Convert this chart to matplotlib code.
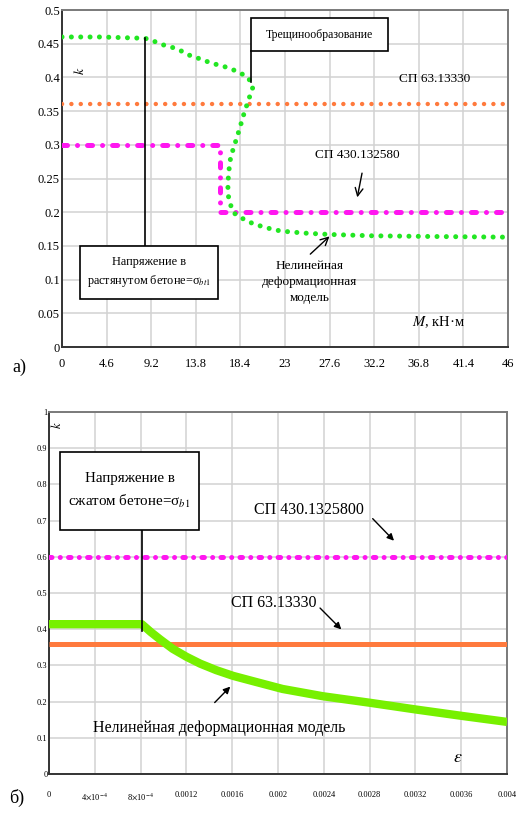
import matplotlib
matplotlib.use('Agg')
import matplotlib.pyplot as plt
from matplotlib.patches import Rectangle

plt.rcParams['font.family'] = ['Liberation Serif', 'DejaVu Serif']
plt.rcParams['mathtext.fontset'] = 'stix'

# ---------------- data: chart а) ----------------
M_ticks = [0, 4.6, 9.2, 13.8, 18.4, 23, 27.6, 32.2, 36.8, 41.4, 46]
M_ticklabels = ['0', '4.6', '9.2', '13.8', '18.4', '23', '27.6', '32.2', '36.8', '41.4', '46']
k_ticks_a = [0, 0.05, 0.1, 0.15, 0.2, 0.25, 0.3, 0.35, 0.4, 0.45, 0.5]
k_ticklabels_a = ['0', '0.05', '0.1', '0.15', '0.2', '0.25', '0.3', '0.35', '0.4', '0.45', '0.5']

M_nl = [0, 4, 8.6, 9.6, 10.5, 11.5, 12.5, 13.4, 14.4, 15.4, 16.3, 17.2, 18.2, 19.2, 19.7,
        19.2, 18.7, 18.3, 17.8, 17.4, 17.2, 17.1, 17.2, 17.7, 18.7, 19.7, 20.6, 21.6, 22.6,
        25.0, 27.6, 32.0, 38.0, 46]
k_nl = [0.46, 0.46, 0.458, 0.453, 0.448, 0.444, 0.438, 0.431, 0.427, 0.421, 0.418, 0.414, 0.408, 0.40, 0.386,
        0.365, 0.343, 0.323, 0.30, 0.282, 0.26, 0.24, 0.218, 0.199, 0.19, 0.183, 0.179, 0.175, 0.172,
        0.169, 0.167, 0.165, 0.164, 0.163]

M_sp63 = [0, 46]
k_sp63_a = [0.36, 0.36]

M_sp430 = [0, 16.3, 16.3, 46]
k_sp430_a = [0.30, 0.30, 0.20, 0.20]

# ---------------- data: chart б) ----------------
eps_ticks = [0, 0.0004, 0.0008, 0.0012, 0.0016, 0.002, 0.0024, 0.0028, 0.0032, 0.0036, 0.004]
eps_ticklabels = ['0', r'4$\times$10$^{-4}$', r'8$\times$10$^{-4}$', '0.0012', '0.0016', '0.002',
                  '0.0024', '0.0028', '0.0032', '0.0036', '0.004']
k_ticks_b = [0, 0.1, 0.2, 0.3, 0.4, 0.5, 0.6, 0.7, 0.8, 0.9, 1.0]
k_ticklabels_b = ['0', '0.1', '0.2', '0.3', '0.4', '0.5', '0.6', '0.7', '0.8', '0.9', '1']

eps_nl = [0, 0.0004, 0.00081, 0.00089, 0.00097, 0.00108, 0.0012, 0.00132, 0.00146, 0.00161,
          0.0018, 0.00204, 0.00239, 0.0028, 0.00321, 0.00362, 0.004]
k_nl_b = [0.414, 0.414, 0.414, 0.392, 0.372, 0.346, 0.324, 0.305, 0.287, 0.271,
          0.255, 0.235, 0.215, 0.197, 0.178, 0.160, 0.144]

eps_line = [0, 0.004]
k_sp63_b = [0.36, 0.36]
k_sp430_b = [0.60, 0.60]

GREEN_A = '#22e622'
GREEN_B = '#77f000'
ORANGE = '#ff7a3d'
MAGENTA = '#ff16f0'

fig = plt.figure(figsize=(5.17, 8.14), dpi=100)
ax1 = fig.add_axes([0.1199, 0.5737, 0.8627, 0.4140])
ax2 = fig.add_axes([0.0948, 0.0491, 0.8859, 0.4447])


def style_axes(ax):
    ax.grid(True, color='#d2d2d2', lw=1.1)
    ax.set_axisbelow(True)
    for s in ('left', 'bottom'):
        ax.spines[s].set_color('#333333')
        ax.spines[s].set_linewidth(1.4)
    for s in ('top', 'right'):
        ax.spines[s].set_color('#7a7a7a')
        ax.spines[s].set_linewidth(1.4)


# ---------------- chart а) ----------------
style_axes(ax1)
ax1.set_xlim(0, 46)
ax1.set_ylim(0, 0.5)
ax1.set_xticks(M_ticks)
ax1.set_xticklabels(M_ticklabels)
ax1.set_yticks(k_ticks_a)
ax1.set_yticklabels(k_ticklabels_a)
ax1.tick_params(axis='both', length=0, labelsize=9)
ax1.tick_params(axis='x', pad=8)
ax1.tick_params(axis='y', pad=1.5)

ax1.plot(M_sp63, k_sp63_a, color=ORANGE, lw=3.2, linestyle=(0, (0.01, 2.1)),
         dash_capstyle='round', solid_capstyle='round', zorder=3)
ax1.plot(M_sp430, k_sp430_a, color=MAGENTA, lw=3.6, linestyle=(0, (1.0, 2.0, 0.01, 2.0)),
         dash_capstyle='round', zorder=3)
ax1.plot(M_nl, k_nl, color=GREEN_A, lw=3.6, linestyle=(0, (0.01, 1.86)),
         dash_capstyle='round', zorder=4)

# box "Трещинообразование"
ax1.plot([19.5, 19.5], [0.439, 0.393], color='black', lw=1.2, zorder=5)
ax1.add_patch(Rectangle((19.5, 0.439), 14.1, 0.049, facecolor='white', edgecolor='black',
                        lw=1.2, zorder=6))
ax1.text(26.55, 0.4635, 'Трещинообразование', ha='center', va='center', fontsize=8.5, zorder=7)

# box "Напряжение в растянутом бетоне"
ax1.plot([8.56, 8.56], [0.458, 0.150], color='black', lw=1.2, zorder=5)
ax1.add_patch(Rectangle((1.86, 0.071), 14.24, 0.079, facecolor='white', edgecolor='black',
                        lw=1.2, zorder=6))
ax1.text(8.98, 0.1105, 'Напряжение в\nрастянутом бетоне=σ$_{bt1}$', ha='center', va='center',
         fontsize=8.8, linespacing=1.45, zorder=7)

ax1.text(38.4, 0.397, 'СП 63.13330', ha='center', va='center', fontsize=9.5)
ax1.text(30.5, 0.285, 'СП 430.132580', ha='center', va='center', fontsize=9.5)
ax1.annotate('', xy=(30.4, 0.218), xytext=(31.0, 0.262),
             arrowprops=dict(arrowstyle='->', color='black', lw=1.0, mutation_scale=14))
ax1.text(25.5, 0.097, 'Нелинейная\nдеформационная\nмодель', ha='center', va='center',
         fontsize=9.5, linespacing=1.45)
ax1.annotate('', xy=(27.8, 0.167), xytext=(25.4, 0.135),
             arrowprops=dict(arrowstyle='->', color='black', lw=1.0, mutation_scale=14))
ax1.text(38.8, 0.037, '$M$, кН·м', ha='center', va='center', fontsize=10.5)
ax1.text(1.9, 0.41, '$k$', ha='center', va='center', fontsize=10, rotation=90)
fig.text(0.037, 1 - 367 / 814, 'а)', ha='center', va='center', fontsize=13)

# ---------------- chart б) ----------------
style_axes(ax2)
ax2.set_xlim(0, 0.004)
ax2.set_ylim(0, 1.0)
ax2.set_xticks(eps_ticks)
ax2.set_xticklabels(eps_ticklabels)
ax2.set_yticks(k_ticks_b)
ax2.set_yticklabels(k_ticklabels_b)
ax2.tick_params(axis='both', length=0, labelsize=6)
ax2.tick_params(axis='x', pad=12)
ax2.tick_params(axis='y', pad=1)

ax2.plot(eps_line, k_sp430_b, color=MAGENTA, lw=3.6, linestyle=(0, (0.5, 1.65, 0.01, 1.65)),
         dash_capstyle='round', zorder=3)
ax2.plot(eps_line, k_sp63_b, color=ORANGE, lw=3.6, solid_capstyle='butt', zorder=3)
ax2.plot(eps_nl, k_nl_b, color=GREEN_B, lw=6.0, solid_capstyle='butt', solid_joinstyle='round',
         zorder=4)

# box "Напряжение в сжатом бетоне"
ax2.plot([0.000812, 0.000812], [0.675, 0.394], color='black', lw=1.2, zorder=5)
ax2.add_patch(Rectangle((0.000096, 0.675), 0.001214, 0.214, facecolor='white', edgecolor='black',
                        lw=1.2, zorder=6))
ax2.text(0.000703, 0.782, 'Напряжение в\nсжатом бетоне=σ$_{b1}$', ha='center', va='center',
         fontsize=10.8, linespacing=1.55, zorder=7)

ax2.text(0.00227, 0.73, 'СП 430.1325800', ha='center', va='center', fontsize=11.5)
ax2.annotate('', xy=(0.00303, 0.639), xytext=(0.00281, 0.711),
             arrowprops=dict(arrowstyle='-|>', color='black', lw=1.0, mutation_scale=10))
ax2.text(0.00196, 0.472, 'СП 63.13330', ha='center', va='center', fontsize=11.5)
ax2.annotate('', xy=(0.00257, 0.394), xytext=(0.00235, 0.464),
             arrowprops=dict(arrowstyle='-|>', color='black', lw=1.0, mutation_scale=10))
ax2.text(0.00149, 0.128, 'Нелинейная деформационная модель', ha='center', va='center',
         fontsize=11.5)
ax2.annotate('', xy=(0.00160, 0.247), xytext=(0.00143, 0.192),
             arrowprops=dict(arrowstyle='-|>', color='black', lw=1.0, mutation_scale=10))
ax2.text(0.00357, 0.047, r'$\varepsilon$', ha='center', va='center', fontsize=13)
ax2.text(0.00007, 0.964, '$k$', ha='center', va='center', fontsize=9, rotation=90)
fig.text(0.033, 1 - 798 / 814, 'б)', ha='center', va='center', fontsize=13)

fig.savefig('out.png', dpi=100)
